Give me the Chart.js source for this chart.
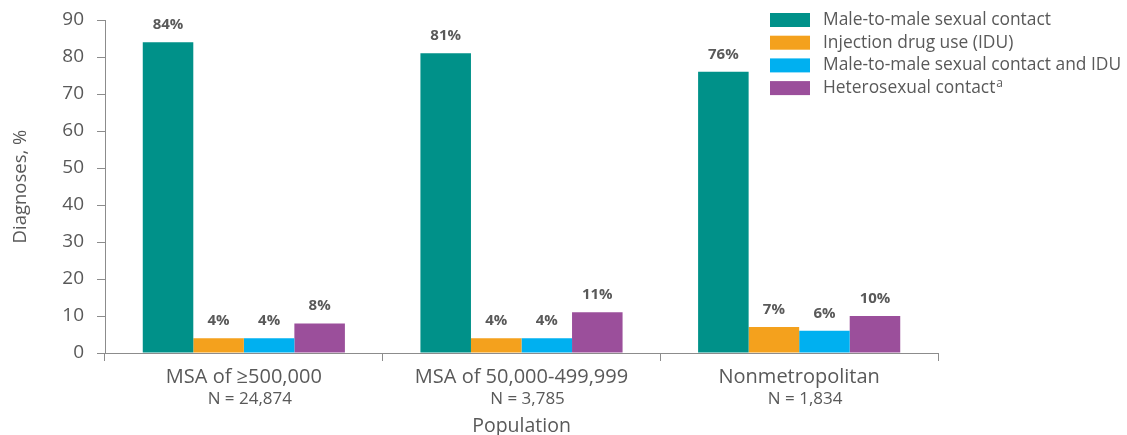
<!DOCTYPE html>
<html>
<head>
<meta charset="utf-8">
<script src="https://cdn.jsdelivr.net/npm/chart.js@4"></script>
<style>
	html, body { margin: 0; padding: 0; background: #fff; }
	#wrap { width: 1127px; height: 435px; position: relative; }
</style>
</head>
<body>
<div id="wrap"><canvas id="chart"></canvas></div>
<script>
const categories = ["MSA of \u2265500,000", "MSA of 50,000-499,999", "Nonmetropolitan"];
const sampleSizes = ["N = 24,874", "N = 3,785", "N = 1,834"];

const seriesNames = [
	"Male-to-male sexual contact",
	"Injection drug use (IDU)",
	"Male-to-male sexual contact and IDU",
	"Heterosexual contact",
];
const seriesNotes = ["", "", "", "a"];

const msmValues = [84, 81, 76];
const iduValues = [4, 4, 7];
const msmIduValues = [4, 4, 6];
const heteroValues = [8, 11, 10];

const yTicks = [0, 10, 20, 30, 40, 50, 60, 70, 80, 90];

const colors = ["#009189", "#f4a11d", "#00b0f0", "#9b4f9b"];
const textGrey = "#595959";
const axisGrey = "#8c8c8c";
const fontFamily = "'Open Sans', 'Noto Sans', sans-serif";

// value labels over each bar
const barLabels = {
	id: "barLabels",
	afterDatasetsDraw(chart) {
		const ctx = chart.ctx;
		ctx.save();
		ctx.fillStyle = textGrey;
		ctx.font = "bold 15px " + fontFamily;
		ctx.textAlign = "center";
		ctx.textBaseline = "bottom";
		chart.data.datasets.forEach((ds, i) => {
			chart.getDatasetMeta(i).data.forEach((bar, j) => {
				ctx.fillText(ds.data[j] + "%", bar.x, bar.y - 10);
			});
		});
		ctx.restore();
	},
};

// second line under each category: sample size
const sampleLabels = {
	id: "sampleLabels",
	afterDraw(chart) {
		const ctx = chart.ctx;
		const x = chart.scales.x;
		ctx.save();
		ctx.fillStyle = textGrey;
		ctx.font = "17px " + fontFamily;
		ctx.textAlign = "center";
		ctx.textBaseline = "middle";
		sampleSizes.forEach((s, i) => {
			ctx.fillText(s, x.getPixelForValue(i) + 6, 399);
		});
		ctx.restore();
	},
};

// legend drawn top right, over the plot
const legendBox = {
	id: "legendBox",
	afterDraw(chart) {
		const ctx = chart.ctx;
		ctx.save();
		ctx.textBaseline = "middle";
		ctx.textAlign = "left";
		chart.data.datasets.forEach((ds, i) => {
			const y = 20 + i * 22.7;
			ctx.fillStyle = ds.backgroundColor;
			ctx.fillRect(770, y - 7, 40, 14);
			ctx.fillStyle = textGrey;
			ctx.font = "17.4px " + fontFamily;
			ctx.fillText(ds.label, 823, y);
			if (seriesNotes[i]) {
				const w = ctx.measureText(ds.label).width;
				ctx.font = "12px " + fontFamily;
				ctx.fillText(seriesNotes[i], 823 + w + 1, y - 5);
			}
		});
		ctx.restore();
	},
};

const allValues = [msmValues, iduValues, msmIduValues, heteroValues];

const ctx = document.getElementById("chart").getContext("2d");
const chart = new Chart(ctx, {
	type: "bar",
	data: {
		labels: categories,
		datasets: allValues.map((vals, i) => {
			return {
				label: seriesNames[i],
				data: vals,
				backgroundColor: colors[i],
				borderWidth: 0,
				categoryPercentage: 0.728,
				barPercentage: 1.0,
			};
		}),
	},
	options: {
		responsive: true,
		maintainAspectRatio: false,
		animation: false,
		layout: {
			padding: { top: 20, right: 189, left: 0, bottom: 0 },
		},
		plugins: {
			legend: { display: false },
			tooltip: { enabled: false },
		},
		scales: {
			x: {
				grid: {
					drawOnChartArea: false,
					drawTicks: true,
					tickLength: 8,
					color: axisGrey,
				},
				border: { color: axisGrey },
				ticks: {
					color: textGrey,
					font: { family: fontFamily, size: 20 },
					padding: 4,
				},
				title: {
					display: true,
					text: "Population",
					color: textGrey,
					font: { family: fontFamily, size: 19.5, lineHeight: 0.9 },
					padding: { top: 0, bottom: 0 },
				},
				afterFit: (scale) => {
					scale.height = 82;
				},
			},
			y: {
				min: 0,
				max: 90,
				afterBuildTicks: (scale) => {
					scale.ticks = yTicks.map((v) => ({ value: v }));
				},
				grid: {
					drawOnChartArea: false,
					drawTicks: true,
					tickLength: 8,
					color: axisGrey,
				},
				border: { color: axisGrey },
				ticks: {
					color: textGrey,
					font: { family: fontFamily, size: 19 },
					padding: 13,
				},
				title: {
					display: true,
					text: "Diagnoses, %",
					color: textGrey,
					font: { family: fontFamily, size: 18.5 },
					padding: { top: 10, bottom: 0 },
				},
				afterFit: (scale) => {
					scale.width = 105;
					// let the top of the plot sit at the layout padding
					scale.paddingTop = 0;
					scale.paddingBottom = 0;
				},
			},
		},
	},
	plugins: [barLabels, sampleLabels, legendBox],
});
</script>
</body>
</html>
